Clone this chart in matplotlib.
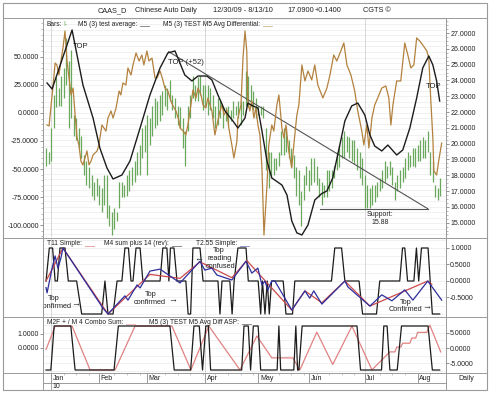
import numpy as np
import matplotlib
matplotlib.use("Agg")
import matplotlib.pyplot as plt
from matplotlib.lines import Line2D
from matplotlib.patches import Rectangle
from matplotlib.ticker import FormatStrFormatter, MultipleLocator, FixedLocator

plt.rcParams['font.family'] = ['Liberation Sans', 'DejaVu Sans']

# ---------------- data (x = trading-day index from 12/30/09) ----------------
months = ['Jan', 'Feb', 'Mar', 'Apr', 'May', 'Jun', 'Jul', 'Aug']
month_start = [2, 21, 40, 63, 84, 104, 126, 147]
quarter_start = [2, 63, 126]

price_high = [19.7, 19.5, 21.0, 23.1, 24.2, 23.5, 24.3, 24.8, 26.7, 25.2,
              25.9, 21.8, 21.6, 21.0, 20.5, 19.3, 18.9, 18.5, 18.0, 17.6,
              17.8, 17.4, 17.2, 18.0, 18.0, 16.1, 15.7, 15.9, 15.7, 17.6,
              17.6, 17.4, 18.0, 18.3, 18.5, 18.9, 19.5, 19.9, 21.0, 21.2,
              21.8, 21.6, 22.4, 22.9, 22.7, 23.1, 23.3, 23.7, 23.5, 24.0,
              23.1, 22.9, 22.4, 22.3, 21.6, 20.8, 22.4, 23.1, 24.3, 23.7,
              24.2, 24.3, 23.7, 23.7, 23.7, 23.5, 23.1, 22.4, 22.9, 22.7,
              22.3, 22.3, 22.4, 22.1, 22.7, 22.4, 22.7, 22.7, 22.7, 24.6,
              24.3, 23.7, 23.3, 22.9, 22.4, 22.4, 22.4, 21.0, 19.5, 19.5,
              19.1, 19.1, 19.5, 20.8, 21.0, 21.0, 20.2, 19.7, 19.3, 18.5,
              18.3, 17.0, 18.0, 18.6, 18.3, 19.1, 19.1, 18.6, 17.8, 17.6,
              17.4, 18.3, 18.3, 18.3, 18.6, 19.5, 19.9, 20.4, 20.8, 20.5,
              20.4, 20.2, 20.2, 19.7, 19.5, 19.1, 18.0, 17.4, 17.2, 17.4,
              17.4, 17.6, 17.8, 18.3, 18.9, 18.6, 18.9, 18.5, 17.6, 18.0,
              18.3, 18.5, 19.1, 19.5, 19.3, 19.7, 19.7, 19.9, 20.2, 20.4,
              20.2, 20.8, 19.5, 18.9, 17.4, 17.2, 17.8]
price_low = [18.6, 18.7, 18.9, 21.0, 22.3, 22.4, 22.4, 22.9, 23.7, 21.0,
             21.6, 20.5, 20.2, 19.7, 19.1, 18.0, 17.4, 17.2, 16.7, 16.4,
             16.7, 16.1, 15.7, 16.1, 15.3, 14.8, 14.2, 14.6, 15.1, 15.9,
             16.6, 16.6, 16.7, 17.0, 17.4, 17.6, 18.0, 18.0, 19.1, 19.5,
             18.0, 19.9, 20.5, 21.0, 21.2, 21.4, 21.8, 22.4, 22.1, 22.7,
             22.1, 21.6, 21.2, 21.0, 19.7, 18.6, 20.8, 21.6, 22.9, 22.7,
             22.7, 23.1, 22.1, 22.3, 21.8, 22.1, 21.6, 21.0, 21.2, 21.6,
             21.0, 21.4, 21.2, 21.4, 21.6, 21.8, 21.6, 21.2, 21.8, 22.4,
             22.3, 22.4, 22.1, 21.6, 21.8, 21.8, 21.6, 18.3, 17.2, 17.8,
             18.0, 18.3, 18.6, 19.3, 19.3, 19.5, 19.1, 18.6, 17.8, 16.7,
             16.1, 14.8, 16.4, 17.4, 17.0, 17.4, 17.6, 17.4, 16.6, 16.1,
             16.6, 16.6, 17.0, 17.2, 17.8, 18.3, 18.5, 19.1, 19.1, 19.5,
             19.1, 18.9, 18.7, 18.3, 17.8, 17.4, 15.9, 15.9, 15.9, 16.1,
             16.3, 16.6, 17.0, 17.2, 17.6, 17.8, 18.0, 17.4, 16.4, 17.0,
             17.2, 17.6, 17.8, 18.3, 18.5, 18.6, 18.5, 18.9, 18.9, 19.1,
             19.1, 19.5, 18.0, 17.6, 16.6, 16.4, 16.7]

# M5 (3) test average (black, left axis)
avg_day = [0.4, 2.4, 10.3, 14.6, 18.6, 21.3, 24.1, 26.5, 30.0, 33.2,
           37.2, 41.1, 45.1, 48.2, 51.0, 54.9, 57.7, 60.1, 63.6, 65.6,
           68.0, 70.8, 73.9, 75.9, 78.7, 79.8, 81.8, 83.8, 85.4, 87.4,
           89.3, 93.3, 95.3, 97.2, 99.2, 101.2, 103.6, 106.3, 109.0, 111.1,
           113.4, 116.2, 118.2, 120.9, 123.3, 126.1, 128.1, 130.0, 132.8, 135.2,
           138.7, 141.1, 143.9, 146.6, 149.0, 151.4, 153.0, 154.5, 155.7]
avg_val = [26.8, 21.4, 74.1, 25.0, -4.5, -31.3, -49.1, -58.9, -55.4, -42.9,
           -13.4, 16.1, 40.2, 53.6, 55.4, 33.9, 28.6, 33.0, 33.0, 29.5,
           16.1, 1.8, -7.1, -13.4, -4.5, 8.9, 6.3, 4.5, -16.1, -42.9,
           -58.0, -64.3, -73.2, -96.4, -107.0, -108.9, -100.0, -77.7, -72.0, -69.6,
           -58.0, -28.6, -7.1, 6.3, 8.9, -1.8, -19.6, -29.5, -33.9, -28.6,
           -37.5, -33.0, -13.4, 13.4, 40.2, 50.9, 42.9, 28.6, 10.7]

# M5 (3) TEST M5 Avg Differential (brown, left axis)
diff_day = [0.4, 1.2, 2.8, 3.6, 4.3, 5.1, 5.9, 6.7, 7.5, 8.3,
            9.1, 9.9, 10.7, 11.5, 12.3, 13.0, 13.8, 14.6, 15.4, 16.2,
            17.0, 17.8, 18.6, 20.2, 20.9, 22.1, 22.9, 23.7, 24.5, 25.7,
            26.5, 27.7, 28.9, 29.6, 30.4, 31.6, 32.4, 33.6, 34.4, 35.6,
            36.8, 37.9, 38.7, 39.9, 40.7, 41.9, 43.1, 43.9, 45.1, 46.2,
            47.0, 48.2, 49.4, 50.2, 51.4, 52.6, 53.0, 54.2, 55.3, 56.1,
            57.3, 58.1, 59.3, 60.1, 61.3, 62.1, 63.2, 64.0, 65.6, 66.8,
            67.6, 68.8, 69.6, 70.4, 71.5, 72.3, 73.5, 74.3, 75.5, 75.9,
            77.1, 77.9, 78.7, 79.4, 79.8, 80.6, 81.4, 82.2, 83.0, 83.8,
            84.6, 85.4, 86.2, 87.4, 88.1, 89.3, 90.1, 91.3, 92.1, 93.3,
            94.1, 94.9, 96.0, 97.2, 98.0, 99.2, 100.0, 101.2, 102.4, 103.6,
            105.1, 106.3, 107.5, 109.5, 111.1, 112.3, 113.8, 115.0, 116.6, 117.8,
            119.0, 120.6, 122.1, 123.3, 124.9, 125.7, 126.9, 127.7, 128.9, 130.0,
            131.2, 132.8, 134.4, 135.6, 136.4, 137.2, 138.7, 140.3, 141.9, 143.1,
            144.3, 145.5, 146.6, 147.8, 149.0, 150.6, 151.4, 152.2, 153.0, 153.4,
            154.5, 155.3, 156.5]
diff_val = [-10.7, -11.6, 25.0, 44.6, 42.9, 33.9, 46.4, 58.0, 73.2, 46.4,
            31.3, 16.1, 22.3, -1.8, -22.3, -28.6, -42.9, -46.4, -40.2, -33.9,
            -46.4, -42.9, -37.5, -33.9, -28.6, -10.7, -13.4, -16.1, -4.5, 1.8,
            -4.5, 4.5, 19.6, 16.1, 26.8, 25.0, 40.2, 33.9, 42.9, 53.6,
            46.4, 51.8, 42.9, 55.4, 46.4, 49.1, 31.3, 31.3, 37.5, 29.5,
            22.3, 19.6, 10.7, 6.3, 1.8, -7.1, -13.4, -16.1, -19.6, -10.7,
            7.1, 20.5, 13.4, 22.3, 16.1, 7.1, 4.5, 13.4, 1.8, -19.6,
            -10.7, 1.8, 7.1, -1.8, 2.7, -13.4, -28.6, -40.2, -25.0, -4.5,
            7.1, 49.1, 73.2, 55.4, 10.7, 1.8, 10.7, -4.5, 4.5, -10.7,
            -19.6, -49.1, -108.9, -64.3, -28.6, -10.7, -16.1, 7.1, 16.1, -13.4,
            -22.3, -10.7, -33.9, -49.1, -28.6, -1.8, 7.1, 42.9, 28.6, 37.5,
            29.5, 42.9, 25.0, 13.4, 22.3, 33.9, 51.8, 46.4, 55.4, 62.5,
            42.9, 33.9, 19.6, 1.8, -16.1, -28.6, -10.7, -31.3, -4.5, 7.1,
            13.4, 22.3, 24.1, 13.4, -10.7, 7.1, 28.6, 28.6, 62.5, 51.8,
            40.2, 42.9, 67.0, 64.3, 60.7, 55.4, 49.1, 10.7, -22.3, -51.8,
            -55.4, -42.9, -26.8]

# trend line and support (price units)
trend_day = [48.5, 151.0]
trend_price = [25.82, 15.88]
support_day = [108.3, 151.0]
support_price = [15.88, 15.88]

# panel 2
m4_day = [0.0, 1.3, 2.6, 3.6, 4.5, 5.5, 7.5, 8.8, 12.1, 14.1,
          22.0, 23.3, 24.5, 26.5, 28.1, 30.0, 31.2, 32.6, 33.6, 34.4,
          35.6, 37.2, 38.3, 45.1, 46.2, 47.8, 48.6, 49.2, 50.6, 51.8,
          55.3, 56.2, 57.2, 58.1, 60.9, 62.1, 68.0, 68.8, 69.6, 72.7,
          73.6, 74.4, 75.9, 79.1, 80.0, 83.9, 84.9, 85.6, 86.6, 87.5,
          88.3, 89.2, 93.8, 94.9, 97.5, 98.4, 112.9, 114.2, 116.9, 118.2,
          123.8, 125.2, 130.7, 132.0, 139.9, 141.0, 141.9, 143.0, 145.5, 146.5,
          147.4, 148.5, 151.1, 152.8, 155.7]
m4_val = [0, 1, 1, 0, 0, 1, 1, 0, 0, -1,
          -1, 0, -1, -1, 0, 0, 1, 1, 0, 0,
          1, 1, 0, 0, 1, 1, 0, 1, 1, 0,
          0, -1, -1, 1, 1, 0, 0, -1, 0, 0,
          -1, 0, 1, 1, 0, 0, -1, 0, -1, 0,
          -1, 0, 0, -1, -1, 0, 0, 1, 1, 0,
          0, -1, -1, 0, 0, 1, 1, 0, 0, 1,
          0, 1, 1, -1, -1]
t11_day = [0.0, 6.7, 24.5, 41.1, 53.0, 60.9, 73.5, 79.4, 97.2, 102.4,
           109.1, 118.2, 128.1, 151.0, 152.6]
t11_val = [0.0, 1.0, -1.0, 0.2, 0.08, 0.58, 0.1, 0.62, -0.88, -0.3,
           -0.66, 0.0, -0.76, 0.0, -0.1]
t255_day = [0.0, 0.4, 2.4, 3.6, 4.7, 5.9, 6.7, 22.5, 24.5, 31.2,
            32.4, 36.0, 37.2, 41.1, 45.1, 53.0, 60.9, 62.8, 65.6, 67.6,
            73.5, 79.1, 81.4, 83.8, 85.4, 86.6, 87.7, 89.3, 90.5, 97.2,
            102.4, 104.3, 105.9, 109.1, 118.2, 119.4, 128.1, 132.8, 136.8, 141.9,
            145.1, 151.0, 156.5]
t255_val = [-0.2, -0.36, 0.39, 0.76, 0.39, 0.7, 1.0, -0.82, -1.0, -0.45,
            -0.58, -0.12, -0.21, 0.3, 0.36, -0.06, 0.6, 0.33, 0.39, 0.18,
            0.03, 0.6, 0.24, 0.39, -0.12, 0.0, -0.27, 0.0, 0.0, -0.88,
            -0.3, -0.52, -0.3, -0.7, 0.0, -0.18, -0.76, -0.42, -0.6, -0.27,
            -0.58, 0.0, -0.58]

# panel 3
combo_day = [0.0, 3.6, 10.3, 17.4, 27.3, 35.2, 49.8, 57.3, 64.4, 76.7,
             83.4, 89.3, 97.6, 100.4, 107.1, 113.4, 121.0, 128.9, 136.0, 138.0,
             138.7, 140.3, 141.1, 143.9, 144.7, 146.2, 147.0, 150.6, 151.8, 156.1]
combo_val = [-0.5, 7.3, 7.3, -7.3, -7.3, 7.3, 7.3, -7.3, 7.3, -7.3,
             4.0, -3.3, -3.3, -7.3, 5.3, -5.5, 7.3, -7.3, -1.3, -1.3,
             0.3, 0.3, 1.6, 1.6, 3.3, 3.3, 5.2, 5.2, 7.6, -1.3]
asp_day = [0.0, 1.9, 3.2, 9.8, 11.5, 26.9, 28.6, 49.0, 50.7, 57.2,
           58.5, 60.6, 61.9, 63.2, 64.2, 65.1, 77.4, 78.3, 80.0, 80.9,
           82.0, 83.9, 84.9, 91.4, 92.1, 92.8, 98.0, 98.8, 99.5, 100.0,
           101.3, 123.0, 124.4, 132.7, 133.6, 134.9, 136.0, 138.9, 140.6, 151.1,
           152.8, 155.7]
asp_val = [-1, -1, 1, 1, -1, -1, 1, 1, -1, -1,
           1, 1, -1, 1, 1, -1, -1, 1, 1, -1,
           1, 1, -1, -1, 1, -1, -1, 1, -1, -1,
           1, 1, -1, -1, 1, 1, -1, -1, 1, 1,
           -1, -1]

# ---------------- figure ----------------
W, H = 490, 393
fig = plt.figure(figsize=(W / 100, H / 100), dpi=100)
fig.patch.set_facecolor('white')

def fx(x): return x / W
def fy(y): return 1 - y / H
def rect(x0, y0, x1, y1): return [fx(x0), fy(y1), (x1 - x0) / W, (y1 - y0) / H]

XLIM = (-1.2, 158.2)
FS = 5
TXT = '#222222'
GRID = '#ececec'
QGRID = '#d2d2d2'
GREEN = '#6aa85e'
BROWN = '#b3813d'
BLACK = '#1c1c1c'
RED2 = '#cc4a4a'
BLUE2 = '#2e2e9c'
RED3 = '#e08282'
fmt = FormatStrFormatter('%.4f')

def style(ax):
    for s in ax.spines.values():
        s.set_visible(False)
    ax.set_xlim(*XLIM)
    ax.set_xticks([])
    ax.tick_params(axis='y', which='major', labelsize=FS, colors='#666666',
                   labelcolor=TXT, length=2, width=0.5, pad=1)
    ax.tick_params(axis='y', which='minor', length=1.2, width=0.4, colors='#888888')

# ----- main panel -----
ax1 = fig.add_axes(rect(43, 18, 446, 237))
ax1r = ax1.twinx()
ax1.set_zorder(ax1r.get_zorder() + 1)
ax1.patch.set_visible(False)
for a in (ax1, ax1r):
    style(a)
ax1.set_ylim(-110.7, 84.8)
ax1.yaxis.set_major_locator(FixedLocator([-100, -75, -50, -25, 0, 25, 50]))
ax1.yaxis.set_minor_locator(MultipleLocator(5))
ax1.yaxis.set_major_formatter(fmt)
ax1.tick_params(axis='y', which='both', right=False, labelright=False)
ax1r.set_ylim(14.09, 27.95)
ax1r.yaxis.set_major_locator(FixedLocator(list(range(15, 28))))
ax1r.yaxis.set_minor_locator(MultipleLocator(0.25))
ax1r.yaxis.set_major_formatter(fmt)
ax1r.tick_params(axis='y', which='both', left=False, labelleft=False)

for v in np.arange(14.25, 28.0, 0.35):
    ax1r.axhline(v, color=GRID, lw=0.5, zorder=0)
for q in quarter_start:
    ax1r.axvline(q, color=QGRID, lw=0.6, zorder=0)

ax1r.vlines(np.arange(len(price_high)), price_low, price_high, color=GREEN, lw=0.9, zorder=2)
ax1r.plot(trend_day, trend_price, color='#555555', lw=0.8, zorder=3)
ax1r.plot(support_day, support_price, color='#555555', lw=0.8, zorder=3)
ax1.plot(diff_day, diff_val, color=BROWN, lw=0.9, zorder=3)
ax1.plot(avg_day, avg_val, color=BLACK, lw=1.0, zorder=4)

# ----- panel 2 -----
ax2 = fig.add_axes(rect(43, 238, 446, 317))
style(ax2)
ax2.yaxis.tick_right()
ax2.set_ylim(-1.091, 1.303)
ax2.yaxis.set_major_locator(FixedLocator([1.0, 0.5, 0.0, -0.5]))
ax2.yaxis.set_major_formatter(fmt)
for v in np.arange(-1.0, 1.3, 0.25):
    ax2.axhline(v, color=GRID, lw=0.5, zorder=0)
for q in quarter_start:
    ax2.axvline(q, color=QGRID, lw=0.6, zorder=0)
ax2.plot(m4_day, m4_val, color=BLACK, lw=0.9, zorder=2)
ax2.plot(t11_day, t11_val, color=RED2, lw=0.9, zorder=3)
ax2.plot(t255_day, t255_val, color=BLUE2, lw=0.9, zorder=4)

# ----- panel 3 -----
ax3 = fig.add_axes(rect(43, 317, 446, 373))
ax3r = ax3.twinx()
ax3b = ax3.twinx()
for a in (ax3, ax3r, ax3b):
    style(a)
ax3.set_ylim(-1.786, 2.214)
ax3.yaxis.set_major_locator(FixedLocator([0.0, 1.0]))
ax3.yaxis.set_major_formatter(fmt)
ax3.tick_params(axis='y', which='both', right=False, labelright=False)
ax3r.set_ylim(-8.33, 10.33)
ax3r.yaxis.set_major_locator(FixedLocator([-5, 0, 5]))
ax3r.yaxis.set_major_formatter(fmt)
ax3r.tick_params(axis='y', which='both', left=False, labelleft=False)
ax3b.set_ylim(-1.136, 1.409)
ax3b.set_yticks([])
ax3b.patch.set_visible(False)
for v in np.arange(-7.5, 10, 2.5):
    ax3r.axhline(v, color=GRID, lw=0.5, zorder=0)
for q in quarter_start:
    ax3r.axvline(q, color=QGRID, lw=0.6, zorder=0)
ax3r.plot(combo_day, combo_val, color=RED3, lw=0.9, zorder=2)
ax3b.plot(asp_day, asp_val, color=BLACK, lw=0.9, zorder=3)

# ----- date row -----
axd = fig.add_axes(rect(43, 373, 446, 383))
for s in axd.spines.values():
    s.set_visible(False)
axd.set_xlim(*XLIM)
axd.set_ylim(0, 1)
axd.set_xticks([])
axd.set_yticks([])
axd.patch.set_visible(False)
axd.vlines(month_start, 0, 1, color='#888888', lw=0.6)
axd.vlines(list(range(2, 157, 5)), 0.8, 1.0, color='#999999', lw=0.4)
for m, name in zip(month_start, months):
    axd.text(m + 0.6, 0.42, name, fontsize=FS, color=TXT, va='center', ha='left')

# ----- frame lines -----
LC = '#9a9a9a'
def hline(y, x0, x1, lw=0.7):
    fig.add_artist(Line2D([fx(x0), fx(x1)], [fy(y), fy(y)], transform=fig.transFigure, color=LC, lw=lw))
def vline(x, y0, y1, lw=0.7):
    fig.add_artist(Line2D([fx(x), fx(x)], [fy(y0), fy(y1)], transform=fig.transFigure, color=LC, lw=lw))

fig.add_artist(Rectangle((fx(3), fy(390)), 484 / W, 387 / H, transform=fig.transFigure,
                         fill=False, edgecolor=LC, lw=0.8))
hline(17.5, 3, 487)
hline(237.5, 3, 487)
hline(316.5, 3, 487)
hline(373, 3, 487)
hline(383, 43, 446)
vline(43, 17.5, 390)
vline(446, 17.5, 390)
vline(50.5, 383, 390, lw=0.6)

def ftext(x, y, s, size=FS, color=TXT, ha='left', **kw):
    return fig.text(fx(x), fy(y), s, fontsize=size, color=color, ha=ha, va='center', **kw)

renderer = fig.canvas.get_renderer()

def legend_row(x, y, parts, size=4.8):
    # parts: list of (text, colour, gap_after_px); placed one after another
    for s, c, gap in parts:
        t = ftext(x, y, s, size=size, color=c)
        bb = t.get_window_extent(renderer=renderer)
        x = bb.x1 + gap

# title
for x, s in [(98, 'CAAS_D'), (135, 'Chinese Auto Daily'), (213, '12/30/09 - 8/13/10'),
             (287, '17.0900'), (315, '+0.1400'), (363, 'CGTS \u00a9')]:
    ftext(x, 10.5, s, size=5.3)

# legends
legend_row(46, 24, [('Bars:', TXT, 2), ('I-', GREEN, 0)])
legend_row(78, 24, [('M5 (3) test average:', TXT, 2), ('___', BLACK, 0)])
legend_row(163, 24, [('M5 (3) TEST M5 Avg Differential:', TXT, 2), ('___', BROWN, 0)])

legend_row(47, 243.5, [('T11 Simple:', TXT, 2), ('___', RED2, 0)])
legend_row(104, 243.5, [('M4 sum plus 14 (rev):', TXT, 2), ('___', BLACK, 0)])
legend_row(196, 243.5, [('T2.55 Simple:', TXT, 2), ('___', BLUE2, 0)])

legend_row(47, 322, [('M2F + / M 4 Combo Sum:', TXT, 2), ('___', RED3, 0)])
legend_row(149, 322, [('M5 (3) TEST M5 Avg Diff ASP:', TXT, 2), ('___', BLACK, 0)])

# main annotations
ftext(73, 47, 'TOP', size=5.5)
ftext(168, 63, 'TOP (+52)', size=5.5)
ftext(426, 87, 'TOP', size=5.5)
ftext(380, 214, 'Support:', ha='center')
ftext(380, 222, '15.88', ha='center')

# panel-2 annotations
def atext(ax, x, y, s, ha='center', size=5.3):
    ax.text(fx(x), fy(y), s, transform=fig.transFigure, fontsize=size, color=TXT,
            ha=ha, va='center', clip_on=True, zorder=6)

atext(ax2, 54, 298, 'Top')
atext(ax2, 56, 306, 'confirmed')
atext(ax2, 76, 303.5, '\u2192', size=6.5)
atext(ax2, 151, 295, 'Top')
atext(ax2, 150, 302.5, 'confirmed')
atext(ax2, 173, 299.5, '\u2192', size=6.5)
atext(ax2, 219, 250.5, 'Top')
atext(ax2, 220, 258.5, 'reading')
atext(ax2, 221, 266, 'confused')
atext(ax2, 199, 258.5, '\u2190', size=6.5)
atext(ax2, 406, 302, 'Top')
atext(ax2, 405, 309.5, 'Confirmed')
atext(ax2, 427, 307, '\u2192', size=6.5)

# date row extras
ftext(52.5, 386.5, '10')
ftext(466, 378, 'Daily', ha='center')

fig.savefig('out.png', dpi=100, facecolor='white')
